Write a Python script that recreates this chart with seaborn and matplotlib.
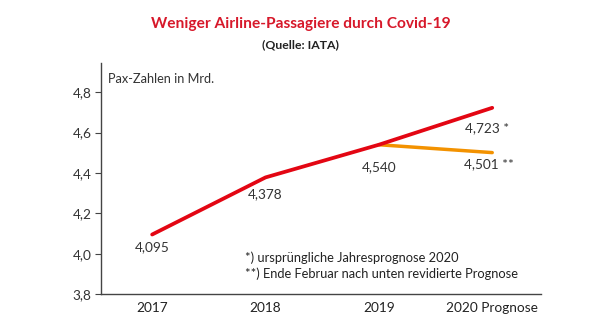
import matplotlib
matplotlib.use("Agg")
import matplotlib.pyplot as plt
import seaborn as sns
import pandas as pd

years = ["2017", "2018", "2019", "2020 Prognose"]
original = [4.095, 4.378, 4.540, 4.723]
revised_years = ["2019", "2020 Prognose"]
revised = [4.540, 4.501]
labels_orig = ["4,095", "4,378", "4,540", "4,723 *"]
label_rev = "4,501 **"
yticks = [3.8, 4.0, 4.2, 4.4, 4.6, 4.8]
yticklabels = ["3,8", "4,0", "4,2", "4,4", "4,6", "4,8"]

sns.set_theme(style="white")
plt.rcParams["font.family"] = ["Lato", "DejaVu Sans"]

fig = plt.figure(figsize=(6.13, 3.30), dpi=100)
ax = fig.add_axes([0.165, 0.109, 0.7175, 0.700])

pos = {y: i for i, y in enumerate(years)}
df1 = pd.DataFrame({"x": [pos[y] for y in years], "v": original})
df2 = pd.DataFrame({"x": [pos[y] for y in revised_years], "v": revised})

RED = "#e30613"
ORANGE = "#f39200"
sns.lineplot(data=df2, x="x", y="v", ax=ax, color=ORANGE, linewidth=2.5)
sns.lineplot(data=df1, x="x", y="v", ax=ax, color=RED, linewidth=2.7)

ax.set_xlim(-0.45, 3.43)
ax.set_ylim(3.8, 4.945)
ax.set_yticks(yticks)
ax.set_yticklabels(yticklabels, fontsize=9.8, color="#333333")
ax.set_xticks(range(len(years)))
ax.set_xticklabels(years, fontsize=9.8, color="#222222")
ax.set_xlabel("")
ax.set_ylabel("")
for s in ["top", "right"]:
    ax.spines[s].set_visible(False)
for s in ["left", "bottom"]:
    ax.spines[s].set_color("#444444")
    ax.spines[s].set_linewidth(1.0)
ax.tick_params(axis="y", which="major", length=4, width=0.8, color="#444444", left=True, pad=3)
ax.tick_params(axis="x", length=0, pad=6)

# value labels
offsets = [(0, -4.5), (0, -8), (0, -12), (-4, -10)]
for i, (v, lab) in enumerate(zip(original, labels_orig)):
    ax.annotate(lab, (i, v), xytext=offsets[i], textcoords="offset points",
                ha="center", va="top", fontsize=9.8, color="#333333")
ax.annotate(label_rev, (3, revised[1]), xytext=(-2.5, -4), textcoords="offset points",
            ha="center", va="top", fontsize=9.8, color="#333333")

ax.text(0.016, 0.955, "Pax-Zahlen in Mrd.", transform=ax.transAxes, fontsize=9.2,
        color="#333333", va="top", ha="left")
ax.text(0.327, 0.186, "*) ursprüngliche Jahresprognose 2020", transform=ax.transAxes,
        fontsize=9.3, color="#222222", va="top")
ax.text(0.327, 0.113, "**) Ende Februar nach unten revidierte Prognose", transform=ax.transAxes,
        fontsize=9.3, color="#222222", va="top")

fig.text(0.491, 0.928, "Weniger Airline-Passagiere durch Covid-19", ha="center", va="center",
         fontsize=11.2, color="#d7182a", fontweight="bold")
fig.text(0.491, 0.866, "(Quelle: IATA)", ha="center", va="center",
         fontsize=8.8, color="#222222", fontweight="bold")

fig.savefig("out.png", dpi=100, facecolor="white")
